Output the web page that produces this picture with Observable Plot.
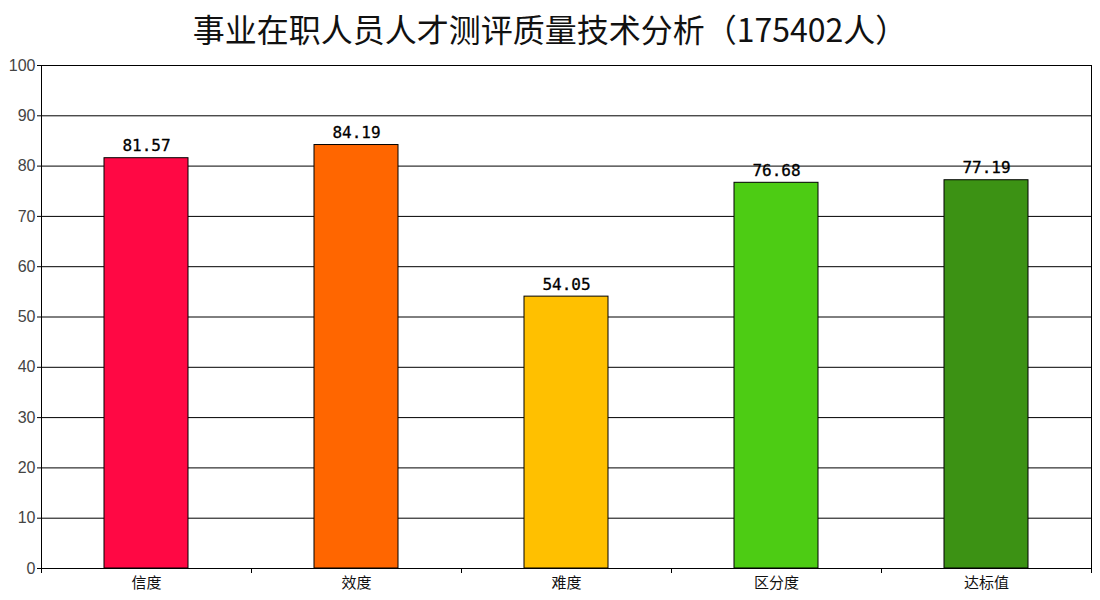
<!DOCTYPE html>
<html>
<head>
<meta charset="utf-8">
<script src="https://cdn.jsdelivr.net/npm/d3@7"></script>
<script src="https://cdn.jsdelivr.net/npm/@observablehq/plot@0.6"></script>
<style>
  body { margin: 0; background: #fff; width: 1100px; }
  #title { height: 50px; line-height: 56px; text-align: center; font-family: "Noto Sans CJK SC", sans-serif; font-size: 32px; color: #111; }
  svg { display: block; }
</style>
</head>
<body>
<div id="title">事业在职人员人才测评质量技术分析（175402人）</div>
<div id="chart"></div>
<script>
const categories = ["信度", "效度", "难度", "区分度", "达标值"];
const values = [81.57, 84.19, 54.05, 76.68, 77.19];
const colors = ["#FF0844", "#FF6600", "#FFC000", "#4DCC14", "#3C9214"];
const yTicks = [0, 10, 20, 30, 40, 50, 60, 70, 80, 90, 100];

const data = categories.map((c, i) => ({ cat: c, i, value: values[i], color: colors[i] }));
const boundaries = d3.range(categories.length + 1);

const chart = Plot.plot({
  width: 1100,
  height: 550,
  marginTop: 15,
  marginBottom: 32,
  marginLeft: 41,
  marginRight: 9,
  x: { domain: [0, categories.length], axis: null },
  y: { domain: [0, 100], axis: null },
  marks: [
    Plot.ruleY(yTicks, { stroke: "#000", strokeWidth: 1 }),
    Plot.rectY(data, { x1: d => d.i + 0.3, x2: d => d.i + 0.7, y: "value", fill: "color", stroke: "#000", strokeWidth: 1 }),
    Plot.ruleX([0, categories.length], { stroke: "#000" }),
    Plot.axisY({ ticks: yTicks, label: null, tickSize: 4, tickFormat: d => d, fontSize: 16, fill: "#444", fontFamily: "Liberation Sans, sans-serif", tickPadding: 2, stroke: "#000" }),
    Plot.axisX({ ticks: boundaries, label: null, tickSize: 5, tickFormat: () => "", stroke: "#000" }),
    Plot.text(data, { x: d => d.i + 0.5, y: 0, text: "cat", dy: 15, fontSize: 15, fill: "#111", fontFamily: "Noto Sans CJK SC, sans-serif" }),
    Plot.text(data, { x: d => d.i + 0.5, y: "value", text: d => d.value.toFixed(2), dy: -12, fontSize: 16, fill: "#000", stroke: "#000", strokeWidth: 0.3, fontFamily: "DejaVu Sans Mono, monospace" })
  ]
});
document.getElementById("chart").append(chart);
</script>
</body>
</html>
